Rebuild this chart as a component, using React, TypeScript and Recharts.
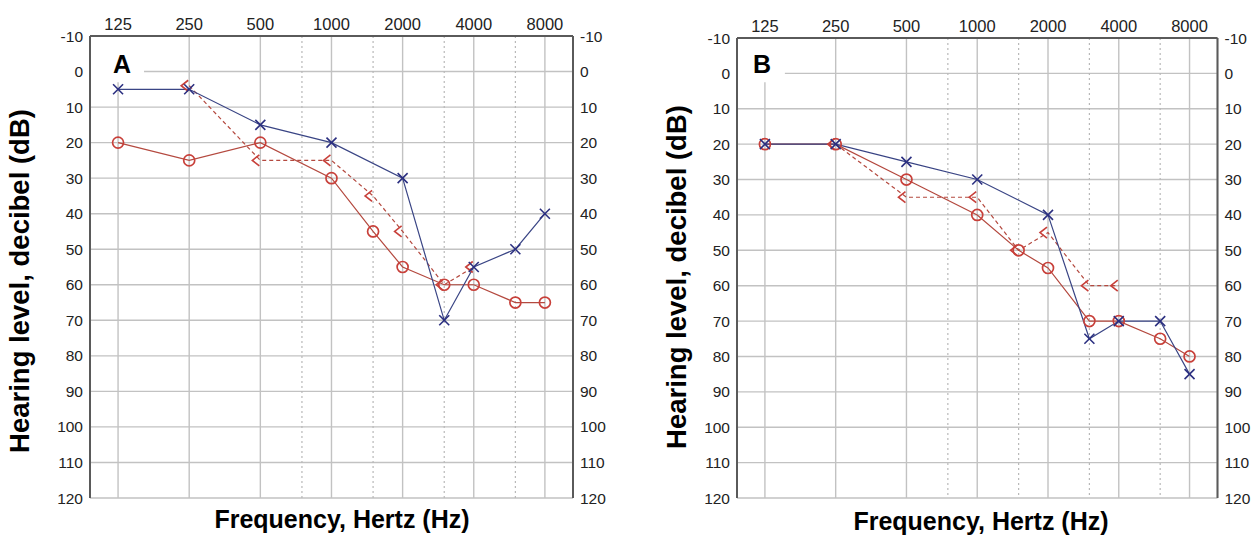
import React from 'react';
import {
  LineChart,
  Line,
  XAxis,
  YAxis,
  CartesianGrid,
  ReferenceLine,
  ReferenceArea,
} from 'recharts';

// ---- shared axis data ----
const FREQ_TICKS = [125, 250, 500, 1000, 2000, 4000, 8000];
const HALF_OCTAVES = [750, 1500, 3000, 6000];
const DB_TICKS = [-10, 0, 10, 20, 30, 40, 50, 60, 70, 80, 90, 100, 110, 120];

// ---- panel A ----
const A_X_FREQ = [125, 250, 500, 1000, 2000, 3000, 4000, 6000, 8000];
const A_X_DB = [5, 5, 15, 20, 30, 70, 55, 50, 40];
const A_O_FREQ = [125, 250, 500, 1000, 1500, 2000, 3000, 4000, 6000, 8000];
const A_O_DB = [20, 25, 20, 30, 45, 55, 60, 60, 65, 65];
const A_BONE_FREQ = [250, 500, 1000, 1500, 2000, 3000, 4000];
const A_BONE_DB = [4, 25, 25, 35, 45, 60, 55];

// ---- panel B ----
const B_X_FREQ = [125, 250, 500, 1000, 2000, 3000, 4000, 6000, 8000];
const B_X_DB = [20, 20, 25, 30, 40, 75, 70, 70, 85];
const B_O_FREQ = [125, 250, 500, 1000, 1500, 2000, 3000, 4000, 6000, 8000];
const B_O_DB = [20, 20, 30, 40, 50, 55, 70, 70, 75, 80];
const B_BONE_FREQ = [250, 500, 1000, 1500, 2000, 3000, 4000];
const B_BONE_DB = [20, 35, 35, 50, 45, 60, 60];

const zip = (f: number[], d: number[]) => f.map((v, i) => ({ f: v, db: d[i] }));

const FONT = '"Liberation Sans", Arial, Helvetica, sans-serif';
const BLUE = '#2b2f80';
const BLUE_LINE = '#3a4585';
const RED = '#c8403a';
const RED_LINE = '#b4493f';
const GRID = '#c2c2c2';
const BORDER = '#5a5a5a';
const X_DOMAIN: [number, number] = [95.1, 10520];

const XMark = ({ cx, cy }: { cx: number; cy: number }) => (
  <g>
    <line x1={cx - 5} y1={cy - 5} x2={cx + 5} y2={cy + 5} stroke={BLUE} strokeWidth={1.6} />
    <line x1={cx - 5} y1={cy + 5} x2={cx + 5} y2={cy - 5} stroke={BLUE} strokeWidth={1.6} />
  </g>
);

const OMark = ({ cx, cy }: { cx: number; cy: number }) => (
  <circle cx={cx} cy={cy} r={5.5} fill="none" stroke={RED} strokeWidth={1.7} />
);

const LtMark = ({ cx, cy }: { cx: number; cy: number }) => (
  <polyline
    points={`${cx - 1},${cy - 5.5} ${cx - 8},${cy} ${cx - 1},${cy + 5.5}`}
    fill="none"
    stroke={RED}
    strokeWidth={1.6}
  />
);

type PanelCfg = {
  id: string;
  chartLeft: number;
  width: number;
  plotLeft: number;
  plotRight: number;
  plotTop: number;
  plotBottom: number;
  boxX2: number;
  boxY2: number;
  xData: { f: number; db: number }[];
  oData: { f: number; db: number }[];
  boneData: { f: number; db: number }[];
};

const PANELS: PanelCfg[] = [
  {
    id: 'A',
    chartLeft: 0,
    width: 629,
    plotLeft: 90,
    plotRight: 573,
    plotTop: 36,
    plotBottom: 498,
    boxX2: 161,
    boxY2: 3,
    xData: zip(A_X_FREQ, A_X_DB),
    oData: zip(A_O_FREQ, A_O_DB),
    boneData: zip(A_BONE_FREQ, A_BONE_DB),
  },
  {
    id: 'B',
    chartLeft: 629,
    width: 629,
    plotLeft: 737,
    plotRight: 1217.5,
    plotTop: 38,
    plotBottom: 498,
    boxX2: 152,
    boxY2: 2.5,
    xData: zip(B_X_FREQ, B_X_DB),
    oData: zip(B_O_FREQ, B_O_DB),
    boneData: zip(B_BONE_FREQ, B_BONE_DB),
  },
];

const TOP_H = 30;
const LEFT_W = 50;
const RIGHT_W = 40;

const Panel = ({ cfg }: { cfg: PanelCfg }) => {
  const margin = {
    top: cfg.plotTop - TOP_H,
    left: cfg.plotLeft - cfg.chartLeft - LEFT_W,
    right: cfg.chartLeft + cfg.width - cfg.plotRight - RIGHT_W,
    bottom: 535 - cfg.plotBottom,
  };
  const tickStyle = { fill: '#222', fontSize: 15.5, fontFamily: FONT };
  const axisLine = { stroke: BORDER, strokeWidth: 2 };
  return (
    <div style={{ position: 'absolute', left: cfg.chartLeft, top: 0 }}>
      <LineChart width={cfg.width} height={535} margin={margin}>
        <CartesianGrid stroke={GRID} strokeWidth={1.4} />
        {HALF_OCTAVES.map((f) => (
          <ReferenceLine key={f} x={f} stroke="#b8b8b8" strokeWidth={1.2} strokeDasharray="2 3" />
        ))}
        <ReferenceArea
          x1={96}
          x2={cfg.boxX2}
          y1={-9.7}
          y2={cfg.boxY2}
          fill="#fff"
          fillOpacity={1}
          stroke="none"
        />
        <XAxis
          orientation="top"
          type="number"
          scale="log"
          dataKey="f"
          domain={X_DOMAIN}
          allowDataOverflow
          ticks={FREQ_TICKS}
          interval={0}
          height={TOP_H}
          tickLine={false}
          tickSize={4}
          tickMargin={2}
          axisLine={axisLine}
          tick={{ ...tickStyle, fontSize: 16.5 }}
        />
        <XAxis
          xAxisId="b"
          orientation="bottom"
          type="number"
          scale="log"
          dataKey="f"
          domain={X_DOMAIN}
          allowDataOverflow
          height={0}
          tick={false}
          tickLine={false}
          axisLine={axisLine}
        />
        <YAxis
          type="number"
          reversed
          domain={[-10, 120]}
          allowDataOverflow
          ticks={DB_TICKS}
          interval={0}
          width={LEFT_W}
          tickLine={false}
          tickSize={5}
          tickMargin={2}
          axisLine={axisLine}
          tick={tickStyle}
        />
        <YAxis
          yAxisId="r"
          orientation="right"
          type="number"
          reversed
          domain={[-10, 120]}
          allowDataOverflow
          ticks={DB_TICKS}
          interval={0}
          width={RIGHT_W}
          tickLine={false}
          tickSize={5}
          tickMargin={2}
          axisLine={axisLine}
          tick={{ ...tickStyle, textAnchor: 'start' }}
        />
        <Line
          data={cfg.boneData}
          dataKey="db"
          stroke={RED_LINE}
          strokeWidth={1.2}
          strokeDasharray="4 3"
          isAnimationActive={false}
          activeDot={false}
          dot={(p: any) => <LtMark key={`lt-${cfg.id}-${p.index}`} cx={p.cx} cy={p.cy} />}
        />
        <Line
          data={cfg.oData}
          dataKey="db"
          stroke={RED_LINE}
          strokeWidth={1.2}
          isAnimationActive={false}
          activeDot={false}
          dot={(p: any) => <OMark key={`o-${cfg.id}-${p.index}`} cx={p.cx} cy={p.cy} />}
        />
        <Line
          data={cfg.xData}
          dataKey="db"
          stroke={BLUE_LINE}
          strokeWidth={1.2}
          isAnimationActive={false}
          activeDot={false}
          dot={(p: any) => <XMark key={`x-${cfg.id}-${p.index}`} cx={p.cx} cy={p.cy} />}
        />
      </LineChart>
    </div>
  );
};

const titleBase: React.CSSProperties = {
  position: 'absolute',
  fontFamily: FONT,
  fontWeight: 'bold',
  color: '#000',
  whiteSpace: 'nowrap',
  textAlign: 'center',
};

const YTitle = ({ cx, cy }: { cx: number; cy: number }) => (
  <div
    style={{
      ...titleBase,
      fontSize: 27.5,
      lineHeight: '40px',
      width: 500,
      height: 40,
      left: cx - 250,
      top: cy - 20,
      transform: 'rotate(-90deg)',
    }}
  >
    Hearing level, decibel (dB)
  </div>
);

const XTitle = ({ cx, baseline }: { cx: number; baseline: number }) => (
  <div
    style={{
      ...titleBase,
      fontSize: 25,
      lineHeight: '30px',
      width: 400,
      height: 30,
      left: cx - 200,
      top: baseline - 23.7,
    }}
  >
    Frequency, Hertz (Hz)
  </div>
);

const Letter = ({ x, baseline, text }: { x: number; baseline: number; text: string }) => (
  <div
    style={{
      ...titleBase,
      textAlign: 'left',
      fontSize: 25,
      lineHeight: '30px',
      height: 30,
      left: x,
      top: baseline - 23.7,
    }}
  >
    {text}
  </div>
);

export default function App() {
  return (
    <div
      style={{
        position: 'absolute',
        left: 0,
        top: 0,
        width: 1258,
        height: 535,
        overflow: 'hidden',
        background: '#fff',
      }}
    >
      {PANELS.map((p) => (
        <Panel key={p.id} cfg={p} />
      ))}
      <YTitle cx={20} cy={280.5} />
      <YTitle cx={677} cy={277} />
      <XTitle cx={342} baseline={528} />
      <XTitle cx={981} baseline={529.5} />
      <Letter x={113} baseline={73} text="A" />
      <Letter x={753} baseline={73} text="B" />
    </div>
  );
}
